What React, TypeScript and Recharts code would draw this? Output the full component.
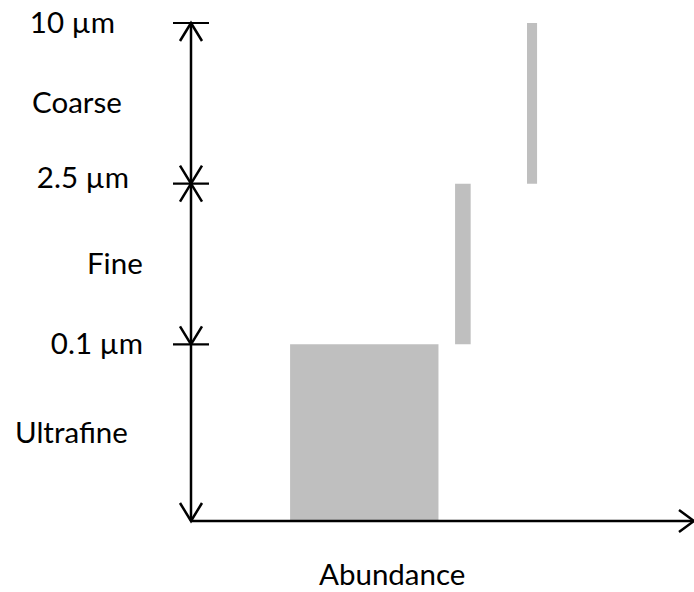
import React from 'react';
import { ComposedChart, XAxis, YAxis, Line, ReferenceArea, ReferenceLine } from 'recharts';

// particle size bands, bottom to top
const bandNames = ['Ultrafine', 'Fine', 'Coarse'];
// position of the band edges on the size axis (lowest edge first)
const bandEdges = [0, 1.1, 2.1, 3.1];
const edgeLabels = ['', '0.1 µm', '2.5 µm', '10 µm'];
// horizontal extent of each band's block on the abundance axis
const abundanceStart = [19.7, 52.5, 66.8];
const abundanceEnd = [49.2, 55.6, 68.8];

const W = 694;
const H = 592;
const AXIS_X = 191;
const FONT = 'Lato, "Open Sans", sans-serif';
const FS = 29.5;
const edgeLabelRight = [0, 143, 129, 115];
const edgeLabelDy = [0, 10, 4, 10];
const bandLabelX = [15, 87, 32];

const bandMids = bandNames.map((_, i) => (bandEdges[i] + bandEdges[i + 1]) / 2);
const sizeTicks = [...bandEdges.slice(1), ...bandMids];

const rows = bandNames.map((name, i) => ({
  name,
  x: abundanceStart[i],
  lo: bandEdges[i],
  hi: bandEdges[i + 1],
}));

const SizeTick = (props: any) => {
  const { y, payload } = props;
  const v = payload.value;
  const ei = bandEdges.indexOf(v);
  if (ei > 0) {
    return (
      <g>
        <line x1={AXIS_X - 18} x2={AXIS_X + 18} y1={y} y2={y} stroke="#000" strokeWidth={2.2} />
        <text x={edgeLabelRight[ei]} y={y + edgeLabelDy[ei]} textAnchor="end" fontSize={FS} fontFamily={FONT} fill="#000">
          {edgeLabels[ei]}
        </text>
      </g>
    );
  }
  const bi = bandMids.indexOf(v);
  if (bi < 0) return <g />;
  return (
    <text x={bandLabelX[bi]} y={y + 10} textAnchor="start" fontSize={FS} fontFamily={FONT} fill="#000">
      {bandNames[bi]}
    </text>
  );
};

const vArrow = (up: boolean) => (p: any) => {
  const x = p.x1;
  const top = Math.min(p.y1, p.y2);
  const bot = Math.max(p.y1, p.y2);
  return (
    <g fill="none" stroke="#000" strokeWidth={2.5}>
      <line x1={x} x2={x} y1={top} y2={bot} />
      {up && <polyline points={`${x - 11},${top + 18} ${x},${top} ${x + 11},${top + 18}`} />}
      <polyline points={`${x - 11},${bot - 18} ${x},${bot} ${x + 11},${bot - 18}`} />
    </g>
  );
};

const hArrow = (p: any) => {
  const y = p.y1;
  return (
    <g fill="none" stroke="#000" strokeWidth={2.5}>
      <line x1={p.x1} x2={p.x2} y1={y} y2={y} />
      <polyline points={`${p.x2 - 15},${y - 11} ${p.x2},${y} ${p.x2 - 15},${y + 11}`} />
    </g>
  );
};

export default function App() {
  return (
    <div style={{ position: 'absolute', left: 0, top: 0, background: '#fff' }}>
      <ComposedChart width={W} height={H} data={rows} margin={{ top: 23, right: 0, bottom: 0, left: 0 }}>
        <XAxis
          type="number"
          dataKey="x"
          domain={[0, 100]}
          allowDataOverflow
          height={71}
          axisLine={false}
          tickLine={false}
          tick={false}
          label={{
            content: (lp: any) => {
              const vb = lp.viewBox;
              return (
                <text x={vb.x + vb.width * 0.4} y={585} textAnchor="middle" fontSize={FS} fontFamily={FONT} fill="#000">
                  Abundance
                </text>
              );
            },
          }}
        />
        <YAxis
          type="number"
          dataKey="hi"
          domain={[0, bandEdges[bandEdges.length - 1]]}
          allowDataOverflow
          ticks={sizeTicks}
          width={AXIS_X}
          axisLine={false}
          tickLine={false}
          tick={<SizeTick />}
          interval={0}
        />
        <Line dataKey="hi" stroke="none" dot={false} activeDot={false} isAnimationActive={false} />
        {bandNames.map((name, i) => (
          <ReferenceArea
            key={name}
            x1={abundanceStart[i]}
            x2={abundanceEnd[i]}
            y1={bandEdges[i]}
            y2={bandEdges[i + 1]}
            fill="#bfbfbf"
            fillOpacity={1}
            stroke="none"
          />
        ))}
        {bandNames.map((name, i) => (
          <ReferenceLine
            key={'a' + name}
            segment={[
              { x: 0, y: bandEdges[i + 1] },
              { x: 0, y: bandEdges[i] },
            ]}
            shape={vArrow(i > 0)}
          />
        ))}
        <ReferenceLine
          segment={[
            { x: 0, y: 0 },
            { x: 100, y: 0 },
          ]}
          shape={hArrow}
        />
      </ComposedChart>
    </div>
  );
}
